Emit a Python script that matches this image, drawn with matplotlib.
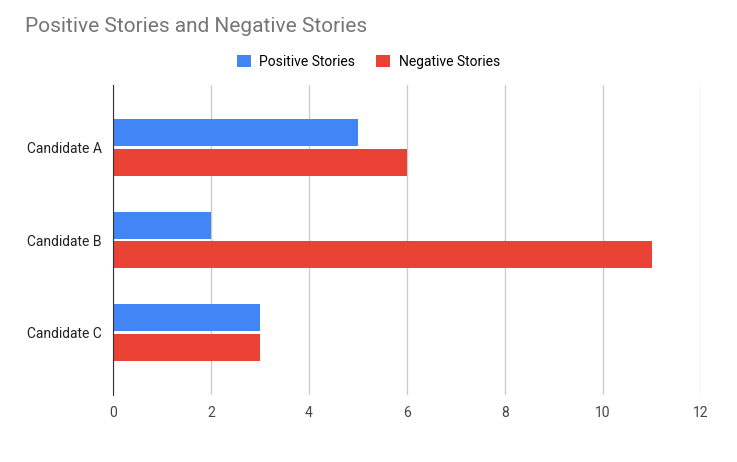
import matplotlib
matplotlib.use("Agg")
import matplotlib.pyplot as plt
import numpy as np

categories = ["Candidate A", "Candidate B", "Candidate C"]
positive = [5, 2, 3]
negative = [6, 11, 3]
xticks = [0, 2, 4, 6, 8, 10, 12]

plt.rcParams['font.family'] = ['Roboto', 'DejaVu Sans']
fig = plt.figure(figsize=(7.37, 4.62), dpi=100)
ax = fig.add_axes([0.1533, 0.145, 0.798, 0.671])
y = np.arange(len(categories))
h = 0.29
ax.barh(y - h/2 - 0.016, positive, height=h, color="#4285F4", label="Positive Stories", zorder=3)
ax.barh(y + h/2 + 0.016, negative, height=h, color="#EA4335", label="Negative Stories", zorder=3)
ax.set_yticks(y)
ax.set_yticklabels(categories, fontsize=10, color="#222222")
ax.set_ylim(2.676, -0.676)
ax.set_xlim(0, 12)
ax.set_xticks(xticks)
ax.set_xticklabels([str(t) for t in xticks], fontsize=10, color="#444444")
ax.grid(axis="x", color="#cccccc", linewidth=1, zorder=0)
for s in ["top", "right", "bottom"]:
    ax.spines[s].set_visible(False)
ax.spines["left"].set_color("#333333")
ax.spines["left"].set_zorder(4)
ax.tick_params(length=0, pad=8)
fig.text(25/737, 1-27/462, "Positive Stories and Negative Stories", fontsize=15,
         color="#757575", va="center", ha="left")
fig.legend(loc="center", bbox_to_anchor=(0.5, 1-62/462), ncol=2, frameon=False,
           fontsize=10, handlelength=1.0, handleheight=1.0, columnspacing=1.5,
           handletextpad=0.6)
fig.savefig("out.png", dpi=100, facecolor="white")
